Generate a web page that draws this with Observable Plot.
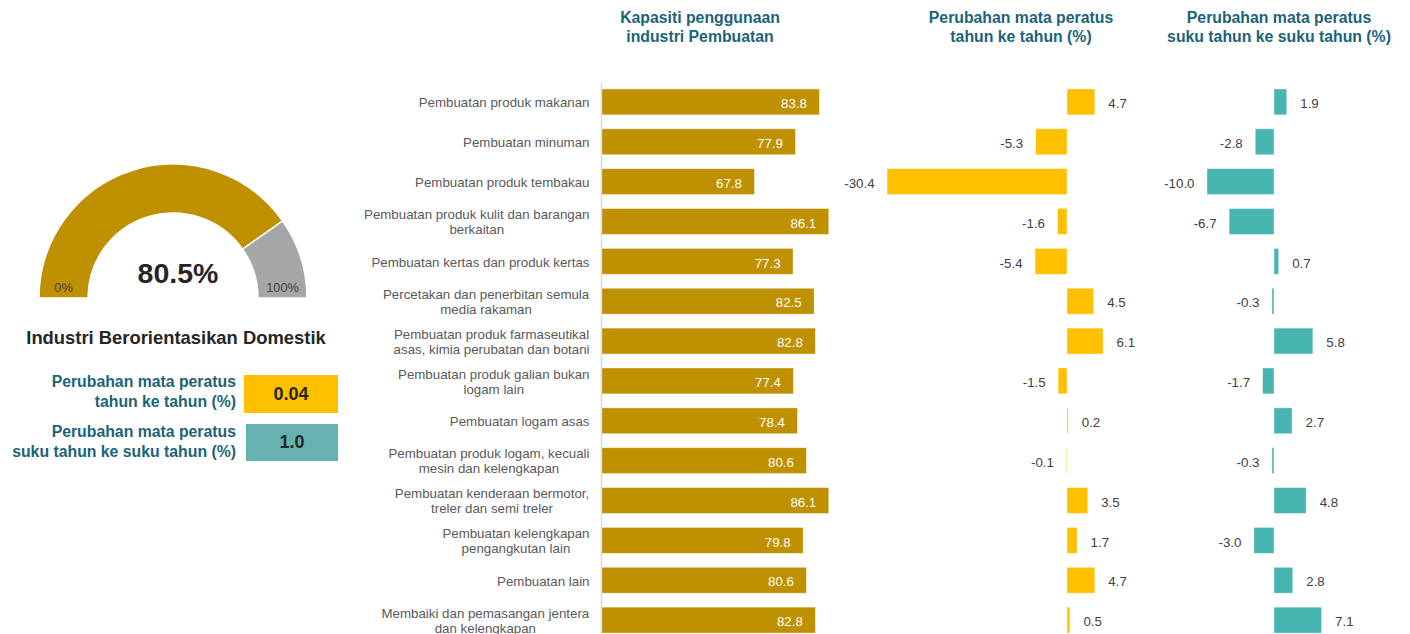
<!DOCTYPE html>
<html>
<head>
<meta charset="utf-8">
<script src="https://cdn.jsdelivr.net/npm/d3@7"></script>
<script src="https://cdn.jsdelivr.net/npm/@observablehq/plot@0.6"></script>
<style>
  body { margin: 0; background: #fff; font-family: Arial, "Liberation Sans", sans-serif; }
  #wrap { position: relative; width: 1410px; height: 634px; overflow: hidden; background: #fff; }
  .panel { position: absolute; top: 0; }
  .title { position: absolute; font-weight: bold; font-size: 15.8px; line-height: 19px; color: #1B6379;
           text-align: center; white-space: pre; transform: translateX(-50%); }
  .gtitle { position: absolute; font-weight: bold; font-size: 18.4px; color: #262626; white-space: nowrap;
            transform: translateX(-50%); }
  .slabel { position: absolute; font-weight: bold; font-size: 15.8px; line-height: 20px; color: #1B6379;
            text-align: right; white-space: pre; }
  .sbox { position: absolute; font-weight: bold; font-size: 18px; color: #262626; display: flex;
          align-items: center; justify-content: center; }
</style>
</head>
<body>
<div id="wrap"></div>
<script>
// ---------------- data ----------------
const categories = [
  "Pembuatan produk makanan",
  "Pembuatan minuman",
  "Pembuatan produk tembakau",
  "Pembuatan produk kulit dan barangan\nberkaitan",
  "Pembuatan kertas dan produk kertas",
  "Percetakan dan penerbitan semula\nmedia rakaman",
  "Pembuatan produk farmaseutikal\nasas, kimia perubatan dan botani",
  "Pembuatan produk galian bukan\nlogam lain",
  "Pembuatan logam asas",
  "Pembuatan produk logam, kecuali\nmesin dan kelengkapan",
  "Pembuatan kenderaan bermotor,\ntreler dan semi treler",
  "Pembuatan kelengkapan\npengangkutan lain",
  "Pembuatan lain",
  "Membaiki dan pemasangan jentera\ndan kelengkapan"
];
const capacity = [83.8, 77.9, 67.8, 86.1, 77.3, 82.5, 82.8, 77.4, 78.4, 80.6, 86.1, 79.8, 80.6, 82.8];
const yoyChange = [4.7, -5.3, -30.4, -1.6, -5.4, 4.5, 6.1, -1.5, 0.2, -0.1, 3.5, 1.7, 4.7, 0.5];
const qoqChange = [1.9, -2.8, -10.0, -6.7, 0.7, -0.3, 5.8, -1.7, 2.7, -0.3, 4.8, -3.0, 2.8, 7.1];

const panelTitles = [
  "Kapasiti penggunaan\nindustri Pembuatan",
  "Perubahan mata peratus\ntahun ke tahun (%)",
  "Perubahan mata peratus\nsuku tahun ke suku tahun (%)"
];

const gaugeValue = 80.5;
const gaugeTickLabels = ["0%", "100%"];
const gaugeTitle = "Industri Berorientasikan Domestik";
const summaryLabels = ["Perubahan mata peratus\ntahun ke tahun (%)", "Perubahan mata peratus\nsuku tahun ke suku tahun (%)"];
const summaryValues = ["0.04", "1.0"];

// ---------------- style ----------------
const FONT = 'Arial, "Liberation Sans", sans-serif';
const C_CAP = "#BF9000", C_YOY = "#FFC000", C_QOQ = "#47B5B0", C_BOX2 = "#66B2B0";
const C_TEXT = "#404040", C_CAT = "#595959";

const rows = categories.map((c, i) => ({cat: c, cap: capacity[i], yoy: yoyChange[i], qoq: qoqChange[i]}));
const wrap = document.getElementById("wrap");

function place(node, left, top) {
  const d = document.createElement("div");
  d.className = "panel";
  d.style.left = left + "px";
  d.style.top = top + "px";
  d.appendChild(node);
  wrap.appendChild(d);
  return d;
}
const yOpts = () => ({domain: categories, range: [75, 647], padding: 0.35, round: false, axis: null});
const baseStyle = {fontFamily: FONT, fontSize: "13.3px", background: "transparent", overflow: "visible"};

// ---------------- panel 1: capacity ----------------
const capPlot = Plot.plot({
  width: 500, height: 634, marginTop: 83, marginBottom: 0, marginLeft: 241, marginRight: 15,
  style: baseStyle,
  x: {domain: [30, 90], range: [241, 241 + 60 * 4.06], axis: null},
  y: yOpts(),
  marks: [
    Plot.barX(rows, {x1: 30, x2: "cap", y: "cat", fill: C_CAP, stroke: "#ffffff", strokeOpacity: 0.5, strokeWidth: 0.8}),
    Plot.ruleX([30], {stroke: "#D9D9D9", strokeWidth: 1.5}),
    Plot.text(rows, {y: "cat", text: "cat", frameAnchor: "left", textAnchor: "end", dx: -12, fill: C_CAT, lineHeight: 1.13}),
    Plot.text(rows, {x: "cap", y: "cat", text: d => d.cap.toFixed(1), textAnchor: "end", dx: -13, dy: 1.5, fill: "white"})
  ]
});
place(capPlot, 360, 0);
// center-align the lines of wrapped category labels (block stays right-aligned)
{
  const g = capPlot.querySelectorAll('g[aria-label="text"]')[0];
  g.querySelectorAll("text").forEach(t => {
    const tsp = t.querySelectorAll("tspan");
    if (tsp.length < 2) return;
    const w = t.getBBox().width;
    t.setAttribute("text-anchor", "middle");
    tsp.forEach(s => s.setAttribute("x", (+s.getAttribute("x") || 0) - w / 2));
  });
}

// ---------------- panels 2/3: change bars ----------------
function changePlot(key, color, zero, k, domain, width) {
  const pos = rows.filter(d => d[key] >= 0), neg = rows.filter(d => d[key] < 0);
  return Plot.plot({
    width, height: 634, marginTop: 83, marginBottom: 0, marginLeft: 0, marginRight: 0,
    style: baseStyle,
    x: {domain, range: [zero + domain[0] * k, zero + domain[1] * k], axis: null},
    y: yOpts(),
    marks: [
      Plot.barX(rows, {x1: 0, x2: key, y: "cat", fill: color, stroke: "#ffffff", strokeOpacity: 0.5, strokeWidth: 0.8}),
      Plot.text(pos, {x: key, y: "cat", text: d => d[key].toFixed(1), textAnchor: "start", dx: 13, dy: 1.5, fill: C_TEXT}),
      Plot.text(neg, {x: key, y: "cat", text: d => d[key].toFixed(1), textAnchor: "end", dx: -13, dy: 1.5, fill: C_TEXT})
    ]
  });
}
place(changePlot("yoy", C_YOY, 227, 5.92, [-32, 10], 290), 840, 0);
place(changePlot("qoq", C_QOQ, 134, 6.7, [-12, 12], 270), 1140, 0);

// titles
[[700, panelTitles[0]], [1021, panelTitles[1]], [1279, panelTitles[2]]].forEach(([cx, t]) => {
  const d = document.createElement("div");
  d.className = "title";
  d.style.left = cx + "px";
  d.style.top = "8px";
  d.textContent = t;
  wrap.appendChild(d);
});

// ---------------- gauge ----------------
const gcx = 173, gcy = 298, rOut = 134, rIn = 85;
const angle = d3.scaleLinear().domain([0, 100]).range([-Math.PI / 2, Math.PI / 2]);
const gaugeData = [{from: 0, to: gaugeValue, fill: C_CAP}, {from: gaugeValue, to: 100, fill: "#A6A6A6"}];
const gaugePlot = Plot.plot({
  width: 340, height: 320, margin: 0,
  style: {fontFamily: FONT, background: "transparent", overflow: "visible"},
  marks: [
    () => {
      const g = d3.create("svg:g");
      const arc = d3.arc().innerRadius(rIn).outerRadius(rOut);
      g.selectAll("path").data(gaugeData).join("path")
        .attr("transform", `translate(${gcx},${gcy})`)
        .attr("d", d => arc({startAngle: angle(d.from), endAngle: angle(d.to)}))
        .attr("fill", d => d.fill)
        .attr("stroke", "#fff").attr("stroke-width", 1.5);
      const mid = (rIn + rOut) / 2;
      g.selectAll("text.tick").data(gaugeTickLabels).join("text")
        .attr("class", "tick")
        .attr("x", (d, i) => gcx + (i === 0 ? -mid : mid))
        .attr("y", gcy - 10)
        .attr("dy", "0.35em")
        .attr("text-anchor", "middle")
        .attr("fill", C_TEXT)
        .attr("font-size", 12.7)
        .text(d => d);
      g.append("text")
        .attr("x", gcx + 5).attr("y", gcy - 25).attr("dy", "0.35em")
        .attr("text-anchor", "middle")
        .attr("font-weight", "bold").attr("font-size", 28.5).attr("fill", "#262626")
        .text(gaugeValue.toFixed(1) + "%");
      return g.node();
    }
  ]
});
place(gaugePlot, 0, 0);

// gauge title
{
  const d = document.createElement("div");
  d.className = "gtitle";
  d.style.left = "176px";
  d.style.top = "327px";
  d.textContent = gaugeTitle;
  wrap.appendChild(d);
}
// summary labels & boxes
const boxes = [
  {label: summaryLabels[0], value: summaryValues[0], fill: C_YOY, top: 375, left: 244, w: 94, h: 38, ltop: 372},
  {label: summaryLabels[1], value: summaryValues[1], fill: C_BOX2, top: 424, left: 246, w: 92, h: 37, ltop: 422}
];
boxes.forEach(b => {
  const l = document.createElement("div");
  l.className = "slabel";
  l.style.right = (1410 - 236) + "px";
  l.style.top = b.ltop + "px";
  l.textContent = b.label;
  wrap.appendChild(l);
  const v = document.createElement("div");
  v.className = "sbox";
  Object.assign(v.style, {left: b.left + "px", top: b.top + "px", width: b.w + "px", height: b.h + "px", background: b.fill});
  v.textContent = b.value;
  wrap.appendChild(v);
});
</script>
</body>
</html>
